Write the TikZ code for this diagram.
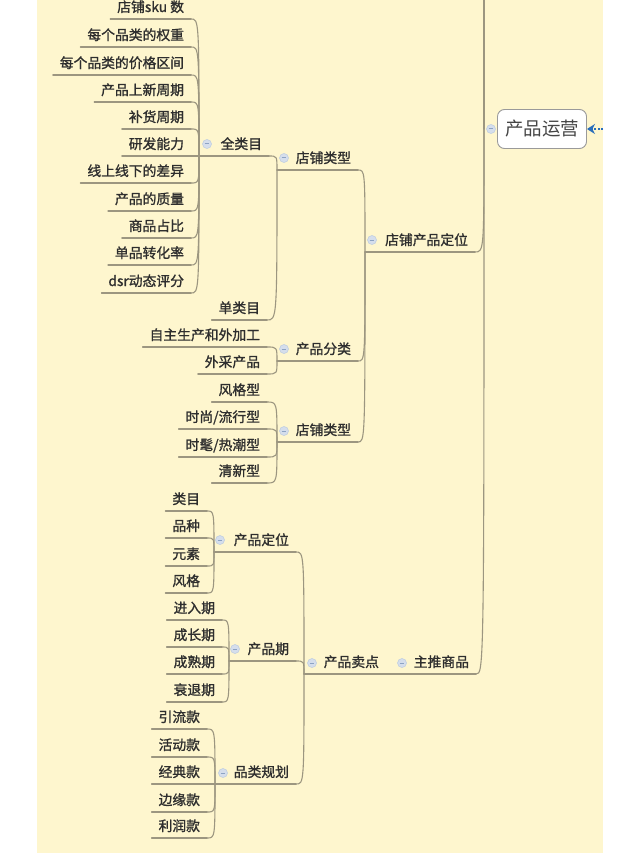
\documentclass[tikz,border=0pt]{standalone}
\usepackage{fontspec}
\setmainfont{Noto Sans CJK SC}
\newfontfamily\topicfont{Noto Sans CJK SC}[FakeBold=1.2]
\usetikzlibrary{arrows.meta}
\definecolor{bgc}{HTML}{FEF6CE}
\definecolor{linec}{HTML}{9C9680}
\definecolor{txtc}{HTML}{2E2E2E}
\definecolor{roottxt}{HTML}{454545}
\definecolor{rootline}{HTML}{9A9A9A}
\definecolor{cfill}{HTML}{D5DEEC}
\definecolor{cdraw}{HTML}{BCCBE0}
\definecolor{cminus}{HTML}{8DA3C4}
\definecolor{arrc}{HTML}{2A6EBB}
\begin{document}
\begin{tikzpicture}[x=1pt,y=-1pt,
  topic/.style={anchor=south east, inner xsep=7pt, inner ysep=0pt, outer sep=0pt,
    text depth=7pt, text height=12pt, font=\topicfont\fontsize{13.8}{16}\selectfont, text=txtc},
  conn/.style={draw=linec, line width=1.1pt, line cap=round},
  bracket/.style={to path={.. controls (\tikztostart |- \tikztotarget) .. (\tikztotarget)}},
  collapse/.style={circle, inner sep=0pt, minimum size=9pt, fill=cfill, draw=cdraw, line width=0.5pt,
    path picture={\draw[cminus, line width=1pt] ([xshift=-2.3pt]path picture bounding box.center) -- ([xshift=2.3pt]path picture bounding box.center);}},
  rootbox/.style={draw=rootline, fill=white, rounded corners=7pt, minimum width=89pt, minimum height=39pt,
    inner sep=0pt, line width=0.9pt, font=\fontsize{18.5}{20}\selectfont, text=roottxt}
]
\useasboundingbox (0,0) rectangle (640,853);
\fill[bgc] (37,0) rectangle (603,853);

% root
\node[rootbox] (root) at (542,129) {产品运营};
\coordinate (root-l) at (484,129);
\coordinate (top) at (484,0);
\coordinate (arrtail) at (603,129);
\node[collapse] (c-root) at (491,129) {};
\draw[arrc, line width=1.7pt, dash pattern=on 2pt off 1.5pt, -{Stealth[length=8pt,width=10pt]}] (arrtail) -- (root.east);

% level 1
\node[topic] (dpdw) at (475,252) {店铺产品定位};
\coordinate (dpdw-l) at (365,252);
\node[collapse] (c-dpdw) at (372,240) {};
\node[topic] (ztsp) at (476,674) {主推商品};
\coordinate (ztsp-l) at (395,674);
\node[collapse] (c-ztsp) at (402,663) {};

% level 2
\node[topic] (dplx1) at (358,170) {店铺类型};
\coordinate (dplx1-l) at (277,170);
\node[collapse] (c-dplx1) at (284,158) {};
\node[topic] (cpfl) at (358,361) {产品分类};
\coordinate (cpfl-l) at (277,361);
\node[collapse] (c-cpfl) at (284,349) {};
\node[topic] (dplx2) at (358,442) {店铺类型};
\coordinate (dplx2-l) at (277,442);
\node[collapse] (c-dplx2) at (284,431) {};
\node[topic] (cpmd) at (386,674) {产品卖点};
\coordinate (cpmd-l) at (304,674);
\node[collapse] (c-cpmd) at (312,663) {};

% level 3
\node[topic] (qlm) at (269,156) {全类目};
\coordinate (qlm-l) at (199,156);
\node[collapse] (c-qlm) at (207,144) {};
\node[topic] (dlm) at (267,320) {单类目};
\node[topic] (a1) at (267,347) {自主生产和外加工};
\node[topic] (a2) at (267,374) {外采产品};
\node[topic] (b1) at (267,402) {风格型};
\node[topic] (b2) at (267,429) {时尚/流行型};
\node[topic] (b3) at (267,457) {时髦/热潮型};
\node[topic] (b4) at (267,483) {清新型};
\node[topic] (cpdw) at (296,552) {产品定位};
\coordinate (cpdw-l) at (214,552);
\node[collapse] (c-cpdw) at (220,540) {};
\node[topic] (cpq) at (296,661) {产品期};
\coordinate (cpq-l) at (229,661);
\node[collapse] (c-cpq) at (235,649) {};
\node[topic] (plgh) at (296,784) {品类规划};
\coordinate (plgh-l) at (215,784);
\node[collapse] (c-plgh) at (223,773) {};

% level 4
\node[topic] (s1) at (191,19) {店铺sku 数};
\node[topic] (s2) at (191,47) {每个品类的权重};
\node[topic] (s3) at (191,75) {每个品类的价格区间};
\node[topic] (s4) at (191,102) {产品上新周期};
\node[topic] (s5) at (191,129) {补货周期};
\node[topic] (s6) at (191,156) {研发能力};
\node[topic] (s7) at (191,183) {线上线下的差异};
\node[topic] (s8) at (191,211) {产品的质量};
\node[topic] (s9) at (191,238) {商品占比};
\node[topic] (s10) at (191,265) {单品转化率};
\node[topic] (s11) at (191,293) {dsr动态评分};
\node[topic] (c1) at (207,511) {类目};
\node[topic] (c2) at (207,538) {品种};
\node[topic] (c3) at (207,566) {元素};
\node[topic] (c4) at (207,593) {风格};
\node[topic] (d1) at (222,620) {进入期};
\node[topic] (d2) at (222,647) {成长期};
\node[topic] (d3) at (222,674) {成熟期};
\node[topic] (d4) at (222,702) {衰退期};
\node[topic] (e1) at (207,729) {引流款};
\node[topic] (e2) at (207,757) {活动款};
\node[topic] (e3) at (207,784) {经典款};
\node[topic] (e4) at (207,812) {边缘款};
\node[topic] (e5) at (207,838) {利润款};

% underlines of parent topics
\foreach \n in {dpdw,ztsp,dplx1,cpfl,dplx2,cpmd,qlm,cpdw,cpq,plgh}
  \draw[conn] (\n-l) -- (\n.south east);
% underlines of leaf topics
\foreach \n in {dlm,a1,a2,b1,b2,b3,b4,s1,s2,s3,s4,s5,s6,s7,s8,s9,s10,s11,c1,c2,c3,c4,d1,d2,d3,d4,e1,e2,e3,e4,e5}
  \draw[conn] (\n.south west) -- (\n.south east);

% connectors
\draw[conn] (root-l) -- (top);
\draw[conn] (root-l) to[bracket] (dpdw.south east);
\draw[conn] (root-l) to[bracket] (ztsp.south east);
\draw[conn] (ztsp-l) -- (cpmd.south east);
\foreach \n in {dplx1,cpfl,dplx2}
  \draw[conn] (dpdw-l) to[bracket] (\n.south east);
\foreach \n in {qlm,dlm}
  \draw[conn] (dplx1-l) to[bracket] (\n.south east);
\foreach \n in {a1,a2}
  \draw[conn] (cpfl-l) to[bracket] (\n.south east);
\foreach \n in {b1,b2,b3,b4}
  \draw[conn] (dplx2-l) to[bracket] (\n.south east);
\foreach \n in {s1,s2,s3,s4,s5,s6,s7,s8,s9,s10,s11}
  \draw[conn] (qlm-l) to[bracket] (\n.south east);
\foreach \n in {cpdw,cpq,plgh}
  \draw[conn] (cpmd-l) to[bracket] (\n.south east);
\foreach \n in {c1,c2,c3,c4}
  \draw[conn] (cpdw-l) to[bracket] (\n.south east);
\foreach \n in {d1,d2,d3,d4}
  \draw[conn] (cpq-l) to[bracket] (\n.south east);
\foreach \n in {e1,e2,e3,e4,e5}
  \draw[conn] (plgh-l) to[bracket] (\n.south east);
\end{tikzpicture}
\end{document}
